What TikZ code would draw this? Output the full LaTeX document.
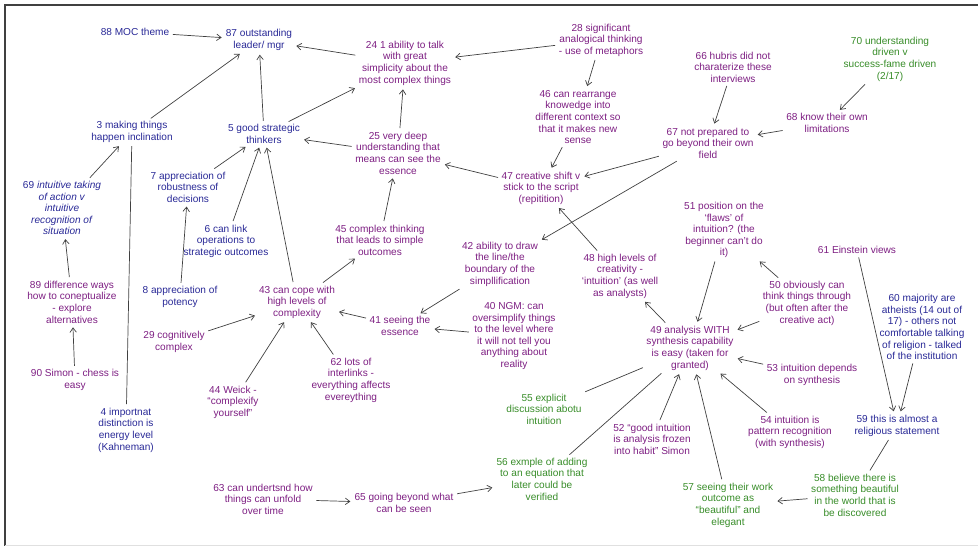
\documentclass[tikz,border=0pt]{standalone}
\usepackage{fontspec}
\setmainfont{Liberation Sans}
\usetikzlibrary{arrows.meta}
\definecolor{blueT}{RGB}{40,40,150}
\definecolor{purpT}{RGB}{125,30,130}
\definecolor{greenT}{RGB}{55,140,40}
\tikzset{
	idea/.style={align=center, inner sep=2pt, font=\fontsize{10.1}{11.6}\selectfont},
	bl/.style={idea, text=blueT},
	pu/.style={idea, text=purpT},
	gr/.style={idea, text=greenT},
	link/.style={line width=0.7pt, color=black!75, shorten <=1.5pt, shorten >=2pt, -{Straight Barb[length=4.5pt,width=6.5pt]}},
	tie/.style={line width=0.7pt, color=black!75, shorten <=1.5pt, shorten >=1.5pt},
}

\begin{document}
\begin{tikzpicture}[x=1pt, y=-1pt]
			%%%%% START %%%%%
			\useasboundingbox (0, 0) rectangle (978, 546);
			\draw[line width=1.2pt, color=black!75] (5, 546) -- (5, 5) -- (978, 5);
			\draw[line width=0.6pt, color=black!12] (5, 545) -- (978, 545);
			
			% left column
			\node[bl] (n88) at (135, 32) {88 MOC theme};
			\node[bl] (n87) at (259, 40) {87 outstanding\\leader/ mgr};
			\node[bl] (n3) at (132, 132) {3 making things\\happen inclination};
			\node[bl] (n5) at (264, 134) {5 good strategic\\thinkers};
			\node[bl] (n69) at (62, 208) {69 \textit{intuitive taking}\\\textit{of action v}\\\textit{intuitive}\\\textit{recognition of}\\\textit{situation}};
			\node[pu] (n89) at (72, 302) {89 difference ways\\how to coneptualize\\- explore\\alternatives};
			\node[pu] (n90) at (75, 380) {90 Simon - chess is\\easy};
			\node[bl] (n4) at (126, 430) {4 importnat\\distinction is\\energy level\\(Kahneman)};
			\node[bl] (n7) at (188, 187) {7 appreciation of\\robustness of\\decisions};
			\node[bl] (n6) at (226, 241) {6 can link\\operations to\\strategic outcomes};
			\node[bl] (n8) at (180, 297) {8 appreciation of\\potency};
			\node[pu] (n29) at (174, 342) {29 cognitively\\complex};
			\node[pu] (n43) at (297, 302) {43 can cope with\\high levels of\\complexity};
			\node[pu] (n44) at (233, 402) {44 Weick -\\``complexify\\yourself''};
			\node[pu] (n62) at (351, 380) {62 lots of\\interlinks -\\everything affects\\evereything};
			\node[pu] (n63) at (263, 499) {63 can undertsnd how\\things can unfold\\over time};
			\node[pu] (n65) at (404, 503) {65 going beyond what\\can be seen};
			
			% middle
			\node[pu] (n24) at (405, 63) {24 1 ability to talk\\with great\\simplicity about the\\most complex things};
			\node[pu] (n28) at (601, 40) {28 significant\\analogical thinking\\- use of metaphors};
			\node[pu] (n46) at (578, 117) {46 can rearrange\\knowedge into\\different context so\\that it makes new\\sense};
			\node[pu] (n25) at (398, 153) {25 very deep\\understanding that\\means can see the\\essence};
			\node[pu] (n47) at (541, 188) {47 creative shift v\\stick to the script\\(repitition)};
			\node[pu] (n45) at (380, 240) {45 complex thinking\\that leads to simple\\outcomes};
			\node[pu] (n42) at (500, 264) {42 ability to draw\\the line/the\\boundary of the\\simpllification};
			\node[pu] (n41) at (400, 326) {41 seeing the\\essence};
			\node[pu] (n40) at (514, 336) {40 NGM: can\\oversimplify things\\to the level where\\it will not tell you\\anything about\\reality};
			\node[pu] (n48) at (620, 276) {48 high levels of\\creativity -\\`intuition' (as well\\as analysts)};
			\node[gr] (n55) at (544, 409) {55 explicit\\discussion abotu\\intuition};
			\node[gr] (n56) at (542, 479) {56 exmple of adding\\to an equation that\\later could be\\verified};
			
			% right
			\node[pu] (n66) at (733, 67) {66 hubris did not\\charaterize these\\interviews};
			\node[gr] (n70) at (890, 59) {70 understanding\\driven v\\success-fame driven\\(2/17)};
			\node[pu] (n68) at (827, 123) {68 know their own\\limitations};
			\node[pu] (n67) at (708, 143) {67 not prepared to\\go beyond their own\\field};
			\node[pu] (n51) at (724, 230) {51 position on the\\`flaws' of\\intuition? (the\\beginner can't do\\it)};
			\node[pu] (n61) at (857, 250) {61 Einstein views};
			\node[pu] (n50) at (807, 303) {50 obviously can\\think things through\\(but often after the\\creative act)};
			\node[bl] (n60) at (922, 327) {60 majority are\\atheists (14 out of\\17) - others not\\comfortable talking\\of religion - talked\\of the institution};
			\node[pu] (n49) at (690, 348) {49 analysis WITH\\synthesis capability\\is easy (taken for\\granted)};
			\node[pu] (n53) at (812, 375) {53 intuition depends\\on synthesis};
			\node[pu] (n54) at (790, 432) {54 intuition is\\pattern recognition\\(with synthesis)};
			\node[pu] (n52) at (652, 439) {52 ``good intuition\\is analysis frozen\\into habit'' Simon};
			\node[bl] (n59) at (897, 426) {59 this is almost a\\religious statement};
			\node[gr] (n58) at (855, 495) {58 believe there is\\something beautiful\\in the world that is\\be discovered};
			\node[gr] (n57) at (728, 505) {57 seeing their work\\outcome as\\``beautiful'' and\\elegant};
			
			% links
			\draw[link] (n88) -- (n87);
			\draw[link] (n3) -- (n87);
			\draw[link] (n5) -- (n87);
			\draw[link] (n24) -- (n87);
			\draw[link] (n5) -- (n24);
			\draw[link] (n25) -- (n5);
			\draw[link] (n7) -- (n5);
			\draw[link] (n6) -- (n5);
			\draw[link] (n43) -- (n5);
			\draw[link] (n69) -- (n3);
			\draw[tie] (n4) -- (n3);
			\draw[link] (n89) -- (n69);
			\draw[link] (n90) -- (n89);
			\draw[link] (n8) -- (n7);
			\draw[link] (n29) -- (n43);
			\draw[link] (n44) -- (n43);
			\draw[link] (n62) -- (n43);
			\draw[link] (n41) -- (n43);
			\draw[link] (n43) -- (n45);
			\draw[link] (n45) -- (n25);
			\draw[link] (n25) -- (n24);
			\draw[link] (n28) -- (n24);
			\draw[link] (n28) -- (n46);
			\draw[link] (n46) -- (n47);
			\draw[link] (n47) -- (n25);
			\draw[link] (n67) -- (n47);
			\draw[link] (n67) -- (n42);
			\draw[link] (n48) -- (n47);
			\draw[link] (n42) -- (n41);
			\draw[link] (n40) -- (n41);
			\draw[link] (n66) -- (n67);
			\draw[link] (n70) -- (n68);
			\draw[link] (n68) -- (n67);
			\draw[link] (n49) -- (n48);
			\draw[link] (n51) -- (n49);
			\draw[link] (n50) -- (n51);
			\draw[link] (n50) -- (n49);
			\draw[link] (n53) -- (n49);
			\draw[link] (n54) -- (n49);
			\draw[link] (n57) -- (n49);
			\draw[link] (n52) -- (n49);
			\draw[tie] (n55) -- (n49);
			\draw[tie] (n56) -- (n49);
			\draw[link] (n61) -- (n59);
			\draw[link] (n60) -- (n59);
			\draw[tie] (n59) -- (n58);
			\draw[link] (n58) -- (n57);
			\draw[link] (n63) -- (n65);
			\draw[link] (n65) -- (n56);
			
			%%%%% END %%%%%
\end{tikzpicture}
\end{document}
